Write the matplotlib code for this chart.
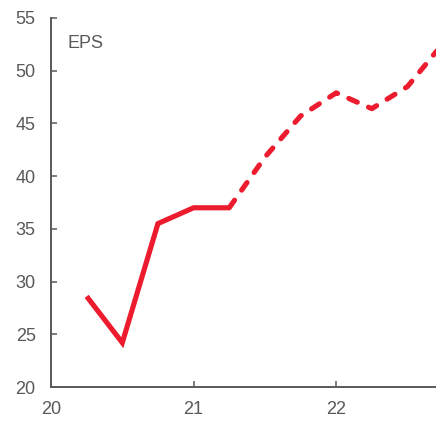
import matplotlib
matplotlib.use("Agg")
import matplotlib.pyplot as plt

# EPS: actual (solid) and forecast (dashed), quarterly, x in years
actual_x = [20.25, 20.5, 20.75, 21.0, 21.25]
actual_eps = [28.6, 24.2, 35.5, 37.0, 37.0]
forecast_x = [21.25, 21.5, 21.75, 22.0, 22.25, 22.5, 22.75]
forecast_eps = [37.0, 41.8, 45.7, 47.9, 46.4, 48.5, 52.6]

x_ticks = [20, 21, 22]
y_ticks = [20, 25, 30, 35, 40, 45, 50, 55]

red = '#EC1C2E'
grey = '#595959'

plt.rcParams['font.family'] = ['Liberation Sans', 'DejaVu Sans']

fig = plt.figure(figsize=(4.36, 4.22), dpi=100)
ax = fig.add_axes([51/436, 1 - 387/422, 1 - 51/436, (387 - 18)/422])

ax.plot(actual_x, actual_eps, color=red, lw=3.7, solid_capstyle='butt', solid_joinstyle='miter')
ax.plot(forecast_x, forecast_eps, color=red, lw=3.7, dashes=(1.8, 2.4), dash_capstyle='round')

ax.set_xlim(20, 22.7)
ax.set_ylim(20, 55)
ax.set_xticks(x_ticks)
ax.set_xticklabels([str(t) for t in x_ticks])
ax.set_yticks(y_ticks)

for s in ['top', 'right']:
    ax.spines[s].set_visible(False)
for s in ['left', 'bottom']:
    ax.spines[s].set_color(grey)
    ax.spines[s].set_linewidth(1.4)

ax.tick_params(direction='in', length=4, width=1.1, color=grey, labelcolor=grey, labelsize=13)
ax.tick_params(axis='x', pad=10)
ax.tick_params(axis='y', pad=11)

ax.text(0.044, 0.932, 'EPS', transform=ax.transAxes, color=grey, fontsize=13, va='center')

fig.savefig('out.png', dpi=100)
